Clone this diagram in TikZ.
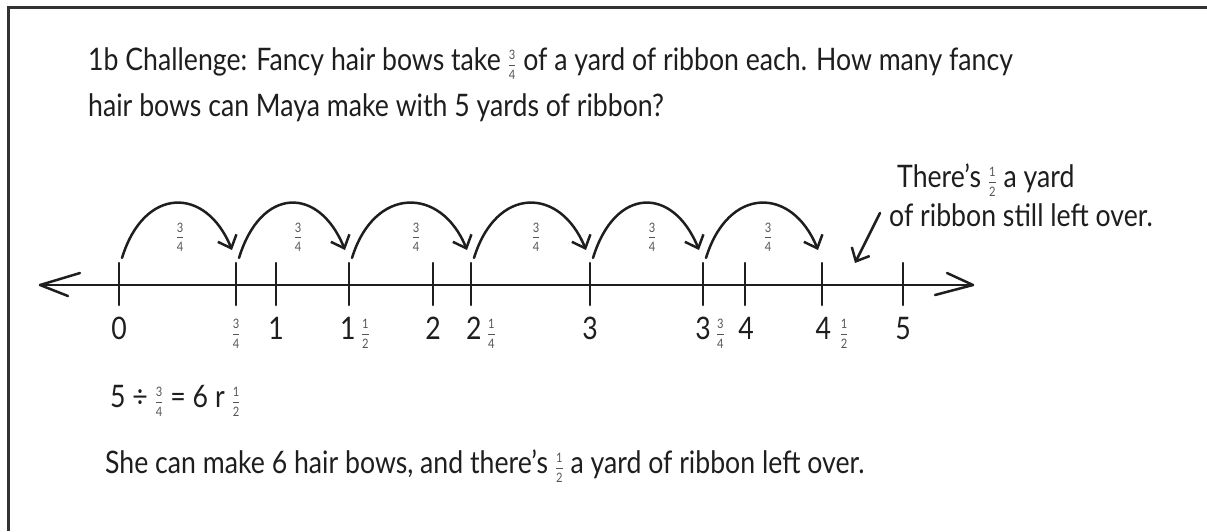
\documentclass[tikz,border=0pt]{standalone}
\usepackage{fontspec}
\usepackage{amsmath}
\setmainfont{Lato}[FakeStretch=0.86]
\usetikzlibrary{arrows.meta}
\definecolor{ink}{HTML}{1E1E1E}
\definecolor{fracgray}{HTML}{555555}
\newcommand\fr[2]{\raisebox{2pt}{\color{fracgray}\fontsize{13}{13}\selectfont$\genfrac{}{}{0.6pt}{0}{\text{#1}\rule[-2.5pt]{0pt}{2.5pt}}{\rule{0pt}{12pt}\text{#2}}$}}
\begin{document}
\begin{tikzpicture}[x=1pt,y=-1pt,
  txt/.style={anchor=base west, inner sep=0pt, text=ink, font=\fontsize{31}{36}\selectfont},
  num/.style={anchor=base, inner sep=0pt, text=ink, font=\fontsize{31}{34}\selectfont},
  axis/.style={line width=2.5pt, draw=ink, line cap=round, line join=round},
  tickmark/.style={line width=2.5pt, draw=ink, line cap=round},
  hop/.style={line width=2.5pt, draw=ink, line cap=round, -{Straight Barb[length=11pt,width=20pt]}},
  hoplbl/.style={inner sep=0pt}
]
\useasboundingbox (0,0) rectangle (1207,531);
% frame
\draw[line width=3pt, draw=black!80] (8.5,531) -- (8.5,7.5) -- (1207,7.5);
% question
\node[txt] (q1) at (88,70) {1b Challenge: Fancy hair bows take \fr34 of a yard of ribbon each. How many fancy};
\node[txt] (q2) at (88,116) {hair bows can Maya make with 5 yards of ribbon?};
% number line
\coordinate (L) at (40,285);
\coordinate (R) at (973,285);
\draw[axis] (L) -- (R);
\draw[axis] (80,273) -- (L) -- (68,296);
\draw[axis] (947,273) -- (R) -- (935,295);
\foreach \n/\x in {t0/119, t34/236, t1/276, t112/349, t2/433, t214/471, t3/590, t334/703, t4/745, t412/822, t5/903} {
  \coordinate (\n) at (\x,285);
  \draw[tickmark] (\x,263) -- (\x,305);
}
% hops
\foreach \a/\b/\m in {t0/t34/180, t34/t112/298, t112/t214/416, t214/t3/536, t3/t334/652, t334/t412/768} {
  \draw[hop] ([shift={(3,-27)}]\a) .. controls +(22,-72) and +(-26,-64) .. ([shift={(-4,-35)}]\b);
  \node[hoplbl] at (\m,237) {\fr34};
}
% tick labels
\node[num] (l0) at (119,339) {0};
\node[num] (l34) at (236,339) {\fr34};
\node[num] (l1) at (276,339) {1};
\node[num] (l112) at (355,339) {1\,\fr12};
\node[num] (l2) at (433,339) {2};
\node[num] (l214) at (481,339) {2\,\fr14};
\node[num] (l3) at (590,339) {3};
\node[num] (l334) at (710,339) {3\,\fr34};
\node[num] (l4) at (746,339) {4};
\node[num] (l412) at (832,339) {4\;\fr12};
\node[num] (l5) at (903,339) {5};
% note
\node[txt] (note1) at (897,187) {There's \fr12 a yard};
\node[txt] (note2) at (889,226) {of ribbon still left over.};
\coordinate (ns) at (880,213);
\coordinate (ne) at (855,263);
\draw[hop] (ns) -- (ne);
% answer
\node[txt] (eq) at (110,407) {5 ÷ \fr34 = 6 r \fr12};
\node[txt] (ans) at (105,473) {She can make 6 hair bows, and there's \fr12 a yard of ribbon left over.};
\end{tikzpicture}
\end{document}
